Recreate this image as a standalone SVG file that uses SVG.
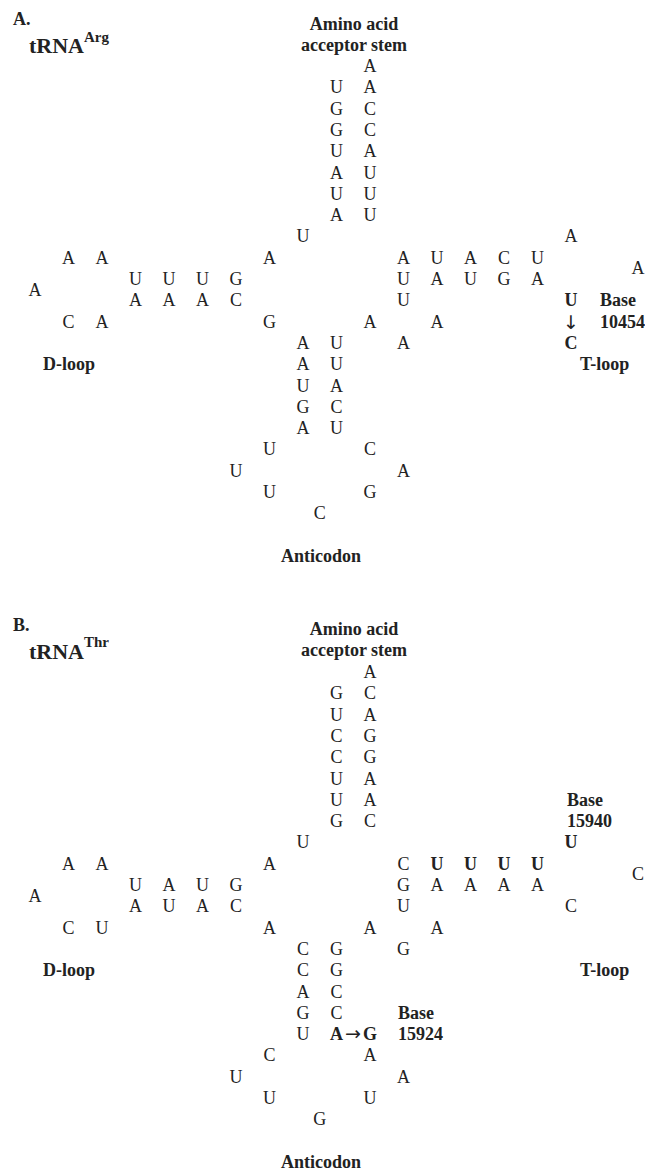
<svg xmlns="http://www.w3.org/2000/svg" width="645" height="1171" viewBox="0 0 645 1171">
<style>
text{font-family:"Liberation Serif","Times New Roman",serif;fill:#222;}
.n{font-size:18px;text-anchor:middle;}
.nb{font-size:18px;text-anchor:middle;font-weight:bold;}
.lb{font-size:18px;font-weight:bold;text-anchor:middle;}
.ll{font-size:18px;font-weight:bold;}
.t{font-size:22px;font-weight:bold;}
.sup{font-size:15px;font-weight:bold;}
text.ar,tspan.ar{font-family:"DejaVu Sans",sans-serif;font-size:19px;font-weight:normal;}
</style>
<rect width="645" height="1171" fill="#fff"/>

<!-- ================= PANEL A ================= -->
<g id="panelA-title">
<text class="ll" x="13" y="25">A.</text>
<text class="t" x="29" y="53">tRNA</text>
<text class="sup" x="84" y="42">Arg</text>
</g>
<g id="panelA-acceptor-label">
<text class="lb" x="354" y="30">Amino acid</text>
<text class="lb" x="354" y="51">acceptor stem</text>
</g>
<g id="panelA-acceptor-stem">
<text class="n" x="370" y="72">A</text>
<text class="n" x="336.5" y="93.3">U</text><text class="n" x="370" y="93.3">A</text>
<text class="n" x="336.5" y="114.6">G</text><text class="n" x="370" y="114.6">C</text>
<text class="n" x="336.5" y="135.9">G</text><text class="n" x="370" y="135.9">C</text>
<text class="n" x="336.5" y="157.2">U</text><text class="n" x="370" y="157.2">A</text>
<text class="n" x="336.5" y="178.5">A</text><text class="n" x="370" y="178.5">U</text>
<text class="n" x="336.5" y="199.8">U</text><text class="n" x="370" y="199.8">U</text>
<text class="n" x="336.5" y="221.1">A</text><text class="n" x="370" y="221.1">U</text>
<text class="n" x="303" y="242.4">U</text>
</g>
<g id="panelA-D-arm">
<text class="n" x="68.5" y="263.7">A</text><text class="n" x="102" y="263.7">A</text>
<text class="n" x="269.5" y="263.7">A</text>
<text class="n" x="135.5" y="285">U</text><text class="n" x="169" y="285">U</text><text class="n" x="202.5" y="285">U</text><text class="n" x="236" y="285">G</text>
<text class="n" x="35" y="295.7">A</text>
<text class="n" x="135.5" y="306.3">A</text><text class="n" x="169" y="306.3">A</text><text class="n" x="202.5" y="306.3">A</text><text class="n" x="236" y="306.3">C</text>
<text class="n" x="68.5" y="327.6">C</text><text class="n" x="102" y="327.6">A</text>
<text class="n" x="269.5" y="327.6">G</text>
<text class="ll" x="43" y="370.2">D-loop</text>
</g>
<g id="panelA-T-arm">
<text class="n" x="571" y="242.4">A</text>
<text class="n" x="403.5" y="263.7">A</text><text class="n" x="437" y="263.7">U</text><text class="n" x="470.5" y="263.7">A</text><text class="n" x="504" y="263.7">C</text><text class="n" x="537.5" y="263.7">U</text>
<text class="n" x="638" y="274.4">A</text>
<text class="n" x="403.5" y="285">U</text><text class="n" x="437" y="285">A</text><text class="n" x="470.5" y="285">U</text><text class="n" x="504" y="285">G</text><text class="n" x="537.5" y="285">A</text>
<text class="n" x="403.5" y="306.3">U</text>
<text class="nb" x="571" y="306.3">U</text>
<text class="n ar" x="571" y="328.5">↓</text>
<text class="nb" x="571" y="348.9">C</text>
<text class="n" x="370" y="327.6">A</text><text class="n" x="437" y="327.6">A</text>
<text class="n" x="403.5" y="348.9">A</text>
<text class="ll" x="600" y="306.3">Base</text>
<text class="ll" x="600" y="327.6">10454</text>
<text class="ll" x="580" y="370.2">T-loop</text>
</g>
<g id="panelA-anticodon-arm">
<text class="n" x="303" y="348.9">A</text><text class="n" x="336.5" y="348.9">U</text>
<text class="n" x="303" y="370.2">A</text><text class="n" x="336.5" y="370.2">U</text>
<text class="n" x="303" y="391.5">U</text><text class="n" x="336.5" y="391.5">A</text>
<text class="n" x="303" y="412.8">G</text><text class="n" x="336.5" y="412.8">C</text>
<text class="n" x="303" y="434.1">A</text><text class="n" x="336.5" y="434.1">U</text>
<text class="n" x="269.5" y="455.4">U</text><text class="n" x="370" y="455.4">C</text>
<text class="n" x="236" y="476.7">U</text><text class="n" x="403.5" y="476.7">A</text>
<text class="n" x="269.5" y="498">U</text><text class="n" x="370" y="498">G</text>
<text class="n" x="319.75" y="519.3">C</text>
<text class="lb" x="321" y="562">Anticodon</text>
</g>

<!-- ================= PANEL B ================= -->
<g id="panelB-title">
<text class="ll" x="13" y="631">B.</text>
<text class="t" x="29" y="659">tRNA</text>
<text class="sup" x="84" y="647">Thr</text>
</g>
<g id="panelB-acceptor-label">
<text class="lb" x="354" y="635">Amino acid</text>
<text class="lb" x="354" y="656">acceptor stem</text>
</g>
<g id="panelB-acceptor-stem">
<text class="n" x="370" y="678">A</text>
<text class="n" x="336.5" y="699.3">G</text><text class="n" x="370" y="699.3">C</text>
<text class="n" x="336.5" y="720.6">U</text><text class="n" x="370" y="720.6">A</text>
<text class="n" x="336.5" y="741.9">C</text><text class="n" x="370" y="741.9">G</text>
<text class="n" x="336.5" y="763.2">C</text><text class="n" x="370" y="763.2">G</text>
<text class="n" x="336.5" y="784.5">U</text><text class="n" x="370" y="784.5">A</text>
<text class="n" x="336.5" y="805.8">U</text><text class="n" x="370" y="805.8">A</text>
<text class="n" x="336.5" y="827.1">G</text><text class="n" x="370" y="827.1">C</text>
<text class="n" x="303" y="848.4">U</text>
</g>
<g id="panelB-D-arm">
<text class="n" x="68.5" y="869.7">A</text><text class="n" x="102" y="869.7">A</text>
<text class="n" x="269.5" y="869.7">A</text>
<text class="n" x="135.5" y="891">U</text><text class="n" x="169" y="891">A</text><text class="n" x="202.5" y="891">U</text><text class="n" x="236" y="891">G</text>
<text class="n" x="35" y="901.7">A</text>
<text class="n" x="135.5" y="912.3">A</text><text class="n" x="169" y="912.3">U</text><text class="n" x="202.5" y="912.3">A</text><text class="n" x="236" y="912.3">C</text>
<text class="n" x="68.5" y="933.6">C</text><text class="n" x="102" y="933.6">U</text>
<text class="n" x="269.5" y="933.6">A</text>
<text class="ll" x="43" y="976.2">D-loop</text>
</g>
<g id="panelB-T-arm">
<text class="ll" x="567" y="805.8">Base</text>
<text class="ll" x="567" y="827.1">15940</text>
<text class="nb" x="571" y="848.4">U</text>
<text class="n" x="403.5" y="869.7">C</text><text class="nb" x="437" y="869.7">U</text><text class="nb" x="470.5" y="869.7">U</text><text class="nb" x="504" y="869.7">U</text><text class="nb" x="537.5" y="869.7">U</text>
<text class="n" x="638" y="880.4">C</text>
<text class="n" x="403.5" y="891">G</text><text class="n" x="437" y="891">A</text><text class="n" x="470.5" y="891">A</text><text class="n" x="504" y="891">A</text><text class="n" x="537.5" y="891">A</text>
<text class="n" x="403.5" y="912.3">U</text>
<text class="n" x="571" y="912.3">C</text>
<text class="n" x="370" y="933.6">A</text><text class="n" x="437" y="933.6">A</text>
<text class="n" x="403.5" y="954.9">G</text>
<text class="ll" x="580" y="976.2">T-loop</text>
</g>
<g id="panelB-anticodon-arm">
<text class="n" x="303" y="954.9">C</text><text class="n" x="336.5" y="954.9">G</text>
<text class="n" x="303" y="976.2">C</text><text class="n" x="336.5" y="976.2">G</text>
<text class="n" x="303" y="997.5">A</text><text class="n" x="336.5" y="997.5">C</text>
<text class="n" x="303" y="1018.8">G</text><text class="n" x="336.5" y="1018.8">C</text>
<text class="n" x="303" y="1040.1">U</text>
<text class="nb" x="336.5" y="1040.1">A</text>
<text class="n ar" x="353" y="1039.5">→</text>
<text class="nb" x="370" y="1040.1">G</text>
<text class="ll" x="398" y="1018.8">Base</text>
<text class="ll" x="398" y="1040.1">15924</text>
<text class="n" x="269.5" y="1061.4">C</text><text class="n" x="370" y="1061.4">A</text>
<text class="n" x="236" y="1082.7">U</text><text class="n" x="403.5" y="1082.7">A</text>
<text class="n" x="269.5" y="1104">U</text><text class="n" x="370" y="1104">U</text>
<text class="n" x="319.75" y="1125.3">G</text>
<text class="lb" x="321" y="1168">Anticodon</text>
</g>
</svg>
